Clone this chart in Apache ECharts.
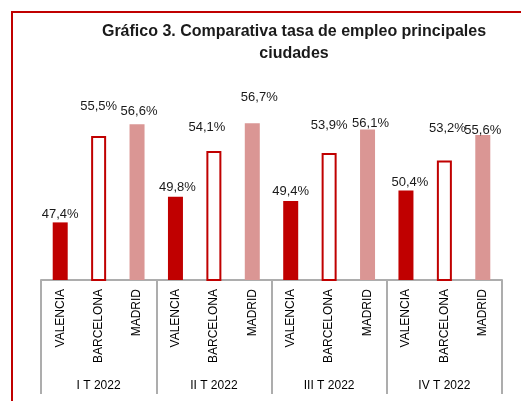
<!DOCTYPE html>
<html>
<head>
<meta charset="utf-8">
<script src="https://cdn.jsdelivr.net/npm/echarts@6/dist/echarts.min.js"></script>
<style>
  html, body { margin: 0; padding: 0; background: #fff; }
  #chart { width: 521px; height: 401px; }
</style>
</head>
<body>
<div id="chart"></div>
<script>
// datos del gráfico
const ciudades = ['VALENCIA', 'BARCELONA', 'MADRID'];
const trimestres = ['I T 2022', 'II T 2022', 'III T 2022', 'IV T 2022'];
const valencia = [47.4, 49.8, 49.4, 50.4];
const barcelona = [55.5, 54.1, 53.9, 53.2];
const madrid = [56.6, 56.7, 56.1, 55.6];

// desplazamiento de etiquetas (como en el Excel original)
const desplazamientos = [
    [[0, 0], [0, -22], [2, -5]],
    [[2, -2], [-7, -16], [7, -18]],
    [[0, -2], [0, -20], [3, 1]],
    [[4, 0], [3, -25], [0, 3]]
];

const estilos = [
    { color: '#C00000' },
    { color: '#FFFFFF', borderColor: '#C00000', borderWidth: 2 },
    { color: '#DA9694' }
];

const series = [valencia, barcelona, madrid];

// construir las categorías y los datos
let categorias = [];
let datos = [];
trimestres.forEach((t, i) => {
    ciudades.forEach((c, j) => {
        categorias.push(c);
        datos.push({
            value: series[j][i],
            itemStyle: estilos[j],
            label: { offset: desplazamientos[i][j] }
        });
    });
});

const fuente = '"Liberation Sans", Arial, sans-serif';

var myChart = echarts.init(document.getElementById('chart'));
myChart.setOption({
    animation: false,
    title: {
        text: 'Gráfico 3. Comparativa tasa de empleo principales\nciudades',
        left: 289,
        top: 16,
        textAlign: 'center',
        textStyle: {
            fontFamily: fuente,
            fontWeight: 'bold',
            fontSize: 16,
            lineHeight: 22,
            color: '#1a1a1a'
        }
    },
    graphic: [{
        type: 'rect',
        shape: { x: 12, y: 12, width: 530, height: 420 },
        style: { fill: 'none', stroke: '#C00000', lineWidth: 2 },
        silent: true
    }],
    grid: { left: 41, right: 19, top: 88, bottom: 121 },
    xAxis: [{
        type: 'category',
        data: categorias,
        position: 'bottom',
        axisLine: { lineStyle: { color: '#ADADAD', width: 2 } },
        axisTick: { show: false },
        axisLabel: {
            interval: 0,
            rotate: 90,
            margin: 9,
            fontFamily: fuente,
            fontSize: 12,
            color: '#000'
        }
    }, {
        type: 'category',
        data: trimestres,
        position: 'bottom',
        axisLine: { show: false },
        axisTick: {
            show: true,
            length: 114,
            lineStyle: { color: '#ADADAD', width: 2 }
        },
        axisLabel: {
            interval: 0,
            margin: 100,
            fontFamily: fuente,
            fontSize: 12,
            color: '#000'
        }
    }],
    yAxis: {
        type: 'value',
        min: 42,
        max: 60,
        show: false,
        splitLine: { show: false }
    },
    series: [{
        type: 'bar',
        xAxisIndex: 0,
        data: datos,
        barWidth: 15,
        label: {
            show: true,
            position: 'top',
            distance: 1,
            fontFamily: fuente,
            fontSize: 13,
            color: '#1a1a1a',
            formatter: (p) => p.value.toFixed(1).replace('.', ',') + '%'
        }
    }]
});
</script>
</body>
</html>
